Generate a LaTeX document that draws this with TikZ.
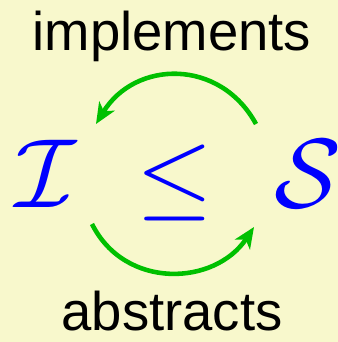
\RequirePackage{fix-cm}
\documentclass[tikz,border=0pt]{standalone}
\usepackage{amsmath,amssymb}
\usepackage{fontspec}
\setmainfont{Liberation Sans}
\usepackage{xcolor}
\usepackage{tikz}
\usetikzlibrary{arrows.meta}
\definecolor{paleyellow}{RGB}{248,248,204}
\definecolor{arrowgreen}{RGB}{0,192,0}
\definecolor{symblue}{RGB}{0,0,255}

\begin{document}
\begin{tikzpicture}[x=0.02cm, y=-0.02cm]
\tikzstyle{word} = [inner sep=0pt, anchor=base, font=\fontsize{31}{36}\selectfont]
\tikzstyle{sym} = [inner sep=0pt, anchor=base, text=symblue, font=\fontsize{56}{60}\selectfont]
\tikzstyle{flow} = [draw=arrowgreen, line width=2.6pt, -{Stealth[length=0.42cm, width=0.36cm, inset=0.12cm]}]
\fill [paleyellow] (0,0) rectangle (338,342);
\useasboundingbox (0,0) rectangle (338,342);
\node [word] (impl) at (172,50) {implements};
\node [word] (abs) at (172,330) {abstracts};
\node [sym] (iface) at (46,207) {$\mathcal{I}$};
\node [sym] (leq) at (175,207) {$\leq$};
\node [sym] (spec) at (308,207) {$\mathcal{S}$};
\coordinate (implfrom) at (256,124);
\coordinate (implto) at (96,124);
\coordinate (absfrom) at (92,224);
\coordinate (absto) at (254,227);
\path [flow] (implfrom) .. controls (220,58) and (135,60) .. (implto);
\path [flow] (absfrom) .. controls (125,290) and (215,286) .. (absto);
\end{tikzpicture}
\end{document}
